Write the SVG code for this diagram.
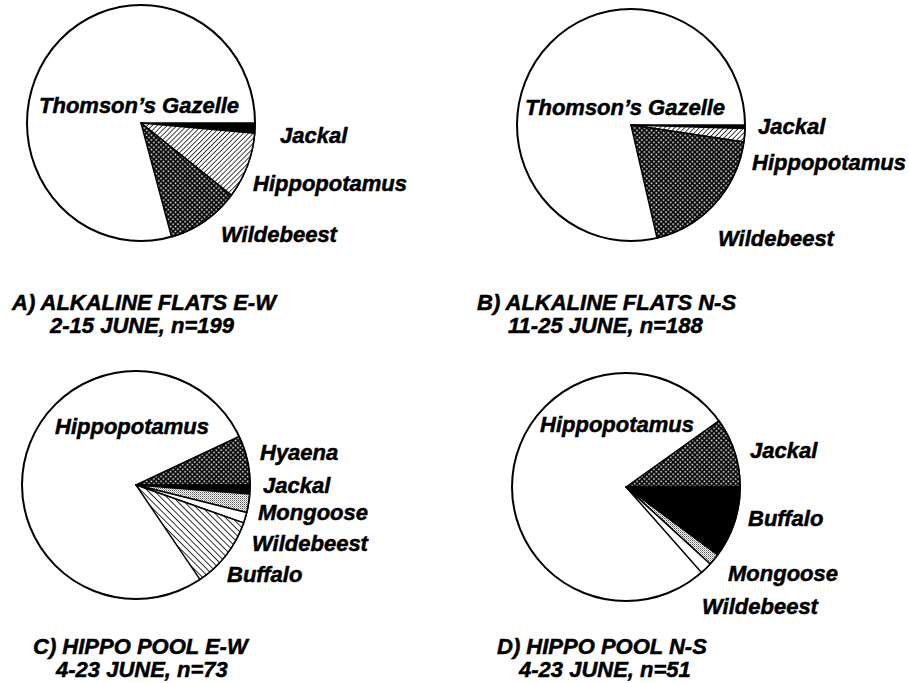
<svg xmlns="http://www.w3.org/2000/svg" width="909" height="683" viewBox="0 0 909 683">
<style>
text{font-family:"Liberation Sans",Arial,sans-serif;font-weight:bold;font-style:italic;font-size:22px;fill:#000;stroke:#000;stroke-width:0.5}
.pie{fill:#fff;stroke:#000;stroke-width:2}
.sl{stroke:#000;stroke-width:1.5;stroke-linejoin:round}
.black{fill:#000}
.hatchR{fill:url(#hatchR)}
.hatchL{fill:url(#hatchL)}
.cross{fill:url(#cross)}
.stip{fill:url(#stip)}
.white{fill:#fff}
</style>
<defs>
<pattern id="hatchR" patternUnits="userSpaceOnUse" width="3.5" height="3.5" patternTransform="rotate(45)">
<rect width="3.5" height="3.5" fill="#fff"/><line x1="0" y1="0" x2="0" y2="3.5" stroke="#000" stroke-width="1.5"/>
</pattern>
<pattern id="hatchL" patternUnits="userSpaceOnUse" width="4.5" height="4.5" patternTransform="rotate(-45)">
<rect width="4.5" height="4.5" fill="#fff"/><line x1="0" y1="0" x2="0" y2="4.5" stroke="#000" stroke-width="1.6"/>
</pattern>
<pattern id="cross" patternUnits="userSpaceOnUse" width="3.4" height="3.4" patternTransform="rotate(45)">
<rect width="3.4" height="3.4" fill="#000"/><rect x="1.3" y="1.3" width="1.6" height="1.6" fill="#fff"/>
</pattern>
<pattern id="stip" patternUnits="userSpaceOnUse" width="2" height="2">
<rect width="2" height="2" fill="#fff"/><rect width="1" height="1" fill="#555"/><rect x="1" y="1" width="1" height="1" fill="#aaa"/>
</pattern>
</defs>

<g id="pie-a">
<ellipse class="pie" cx="141" cy="123" rx="114" ry="118"/>
<path class="sl black" d="M141,123 L255,123 A114,118 0 0 1 254.6,133.3 Z"/>
<path class="sl hatchR" d="M141,123 L254.6,133.3 A114,118 0 0 1 231.2,195.2 Z"/>
<path class="sl cross" d="M141,123 L231.2,195.2 A114,118 0 0 1 171.5,236.7 Z"/>
<text x="39" y="113">Thomson’s Gazelle</text>
<text x="280" y="143">Jackal</text>
<text x="253" y="191">Hippopotamus</text>
<text x="221" y="242">Wildebeest</text>
<text x="12" y="310">A) ALKALINE FLATS E-W</text>
<text x="50" y="333">2-15 JUNE, n=199</text>
</g>

<g id="pie-b">
<ellipse class="pie" cx="631" cy="125" rx="114" ry="116"/>
<path class="sl black" d="M631,125 L745,125 A114,116 0 0 1 744.9,128.6 Z"/>
<path class="sl hatchR" d="M631,125 L744.9,128.6 A114,116 0 0 1 743.7,142.1 Z"/>
<path class="sl cross" d="M631,125 L743.7,142.1 A114,116 0 0 1 657,237.9 Z"/>
<text x="525" y="115">Thomson’s Gazelle</text>
<text x="758" y="134">Jackal</text>
<text x="752" y="170">Hippopotamus</text>
<text x="718" y="246">Wildebeest</text>
<text x="477" y="310">B) ALKALINE FLATS N-S</text>
<text x="508" y="333">11-25 JUNE, n=188</text>
</g>

<g id="pie-c">
<circle class="pie" cx="136" cy="485" r="114"/>
<path class="sl cross" d="M136,485 L239.1,436.5 A114,114 0 0 1 250,485 Z"/>
<path class="sl black" d="M136,485 L250,485 A114,114 0 0 1 249.6,493.9 Z"/>
<path class="sl stip" d="M136,485 L249.6,493.9 A114,114 0 0 1 246.6,512.6 Z"/>
<path class="sl white" d="M136,485 L246.6,512.6 A114,114 0 0 1 243.5,522.9 Z"/>
<path class="sl hatchL" d="M136,485 L243.5,522.9 A114,114 0 0 1 199.9,579.4 Z"/>
<text x="55" y="434">Hippopotamus</text>
<text x="260" y="460">Hyaena</text>
<text x="263" y="493">Jackal</text>
<text x="258" y="520">Mongoose</text>
<text x="252" y="551">Wildebeest</text>
<text x="227" y="582">Buffalo</text>
<text x="33" y="654">C) HIPPO POOL E-W</text>
<text x="56" y="677">4-23 JUNE, n=73</text>
</g>

<g id="pie-d">
<circle class="pie" cx="626" cy="487" r="114"/>
<path class="sl cross" d="M626,487 L718.8,420.8 A114,114 0 0 1 740,487 Z"/>
<path class="sl black" d="M626,487 L740,487 A114,114 0 0 1 717.6,554.8 Z"/>
<path class="sl stip" d="M626,487 L717.6,554.8 A114,114 0 0 1 710.1,564 Z"/>
<path class="sl white" d="M626,487 L710.1,564 A114,114 0 0 1 701.5,572.4 Z"/>
<text x="540" y="432">Hippopotamus</text>
<text x="750" y="458">Jackal</text>
<text x="748" y="526">Buffalo</text>
<text x="728" y="581">Mongoose</text>
<text x="702" y="614">Wildebeest</text>
<text x="497" y="654">D) HIPPO POOL N-S</text>
<text x="519" y="677">4-23 JUNE, n=51</text>
</g>
</svg>
